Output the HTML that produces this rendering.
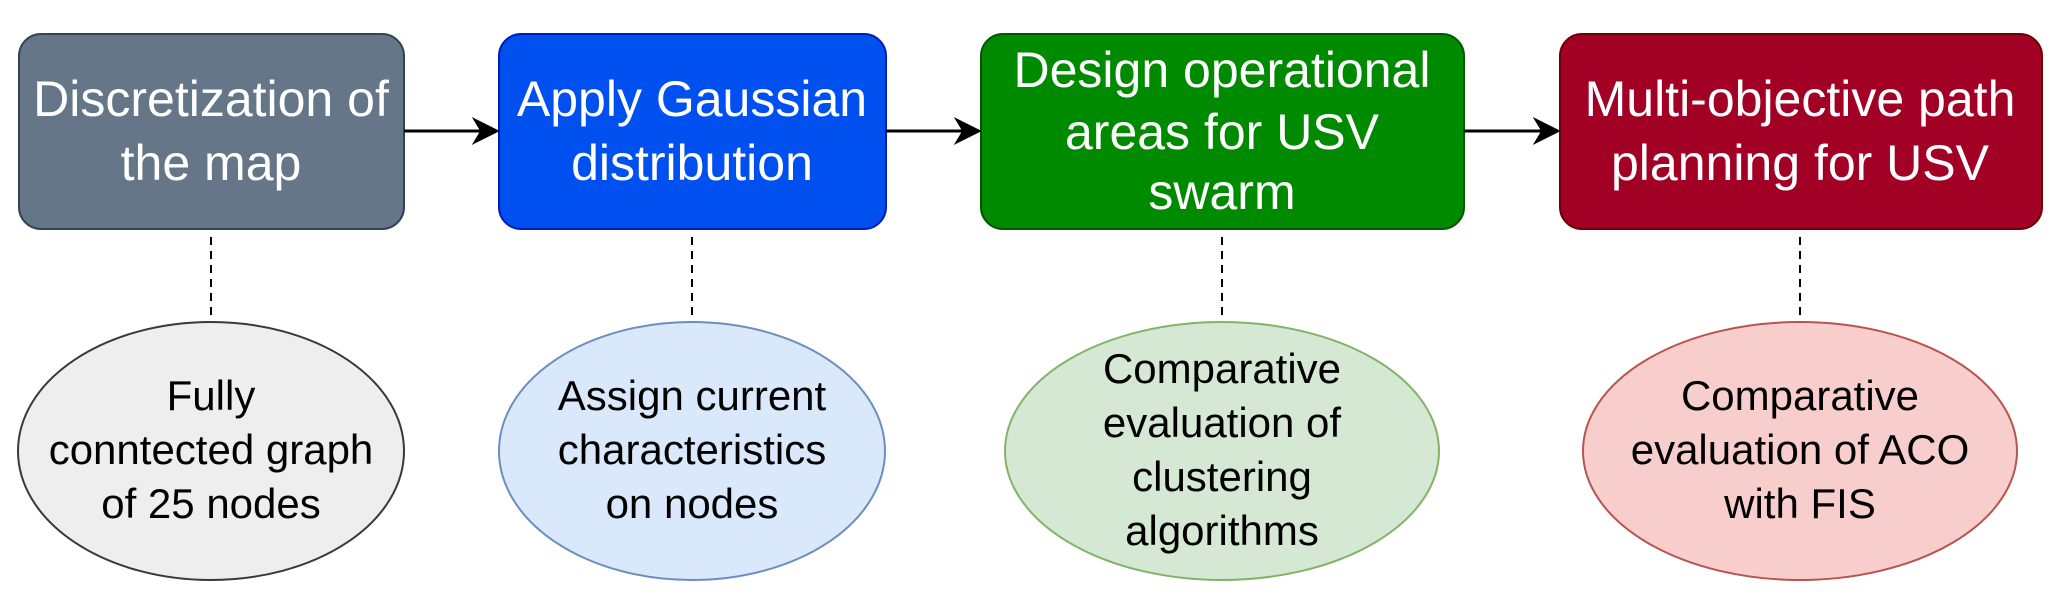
<!DOCTYPE html>
<html><head><meta charset="utf-8"><style>html,body{margin:0;padding:0;background:#fff}svg{display:block}</style></head><body>
<svg width="2061" height="606" viewBox="0 0 2061 606" xmlns="http://www.w3.org/2000/svg" font-family="Liberation Sans, Arial, sans-serif">
<defs><marker id="a" viewBox="0 0 10 10" refX="9" refY="5" markerWidth="8" markerHeight="8" orient="auto" markerUnits="userSpaceOnUse"><path d="M0,0 L10,5 L0,10 L3,5 Z" fill="#000"/></marker>
<marker id="b" viewBox="0 0 10 10" refX="9" refY="5" markerWidth="28" markerHeight="28" orient="auto" markerUnits="userSpaceOnUse"><path d="M0,0 L10,5 L0,10 L3,5 Z" fill="#000"/></marker></defs>
<g stroke-width="2">
<rect x="19" y="34" width="385" height="195" rx="22" fill="#647687" stroke="#314354"/>
<rect x="499" y="34" width="387" height="195" rx="22" fill="#0050ef" stroke="#001dbc"/>
<rect x="981" y="34" width="483" height="195" rx="22" fill="#008a00" stroke="#005700"/>
<rect x="1560" y="34" width="482" height="195" rx="22" fill="#a20025" stroke="#6f0000"/>
</g>
<g stroke="#000" stroke-width="3" fill="none">
<line x1="404" y1="131" x2="497" y2="131" marker-end="url(#b)"/>
<line x1="886" y1="131" x2="979" y2="131" marker-end="url(#b)"/>
<line x1="1464" y1="131" x2="1558" y2="131" marker-end="url(#b)"/>
</g>
<g stroke="#000" stroke-width="2" stroke-dasharray="8,6">
<line x1="211" y1="237" x2="211" y2="323"/>
<line x1="692" y1="237" x2="692" y2="323"/>
<line x1="1222" y1="237" x2="1222" y2="323"/>
<line x1="1800" y1="237" x2="1800" y2="323"/>
</g>
<g stroke-width="2">
<ellipse cx="211" cy="451" rx="193" ry="129" fill="#eeeeee" stroke="#36393d"/>
<ellipse cx="692" cy="451" rx="193" ry="129" fill="#dae8fc" stroke="#6c8ebf"/>
<ellipse cx="1222" cy="451" rx="217" ry="129" fill="#d5e8d4" stroke="#82b366"/>
<ellipse cx="1800" cy="451" rx="217" ry="129" fill="#f8cecc" stroke="#b85450"/>
</g>
<g fill="#fff" font-size="50" text-anchor="middle">
<text x="211" y="116">Discretization of</text><text x="211" y="180">the map</text>
<text x="692" y="116">Apply Gaussian</text><text x="692" y="180">distribution</text>
<text x="1222" y="87">Design operational</text><text x="1222" y="149">areas for USV</text><text x="1222" y="209">swarm</text>
<text x="1800" y="116">Multi-objective path</text><text x="1800" y="180">planning  for USV</text>
</g>
<g fill="#000" font-size="42" text-anchor="middle">
<text x="211" y="410">Fully</text><text x="211" y="464">conntected graph</text><text x="211" y="518">of 25 nodes</text>
<text x="692" y="410">Assign current</text><text x="692" y="464">characteristics</text><text x="692" y="518">on nodes</text>
<text x="1222" y="383">Comparative</text><text x="1222" y="437">evaluation of</text><text x="1222" y="491">clustering</text><text x="1222" y="545">algorithms</text>
<text x="1800" y="410">Comparative</text><text x="1800" y="464">evaluation of ACO</text><text x="1800" y="518">with FIS</text>
</g>
</svg>
</body></html>
